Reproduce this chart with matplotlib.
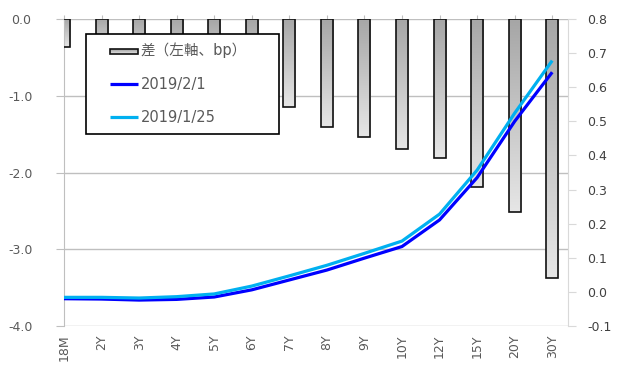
import matplotlib
matplotlib.use("Agg")
import matplotlib.pyplot as plt
import numpy as np
from matplotlib.patches import Rectangle
from matplotlib.lines import Line2D
from matplotlib.legend_handler import HandlerBase
from matplotlib.colors import LinearSegmentedColormap
from matplotlib.ticker import FormatStrFormatter

# Tenors and data
tenors = ['18M', '2Y', '3Y', '4Y', '5Y', '6Y', '7Y', '8Y', '9Y', '10Y', '12Y', '15Y', '20Y', '30Y']
spread_bp = [-0.37, -0.50, -0.60, -0.80, -0.90, -1.05, -1.15, -1.41, -1.54, -1.69, -1.81, -2.19, -2.51, -3.37]
yield_0201 = [-0.020, -0.021, -0.024, -0.022, -0.015, 0.006, 0.035, 0.064, 0.099, 0.133, 0.211, 0.335, 0.500, 0.644]
yield_0125 = [-0.016, -0.016, -0.018, -0.014, -0.006, 0.017, 0.047, 0.078, 0.113, 0.149, 0.228, 0.357, 0.524, 0.678]
left_ticks = [-4.0, -3.0, -2.0, -1.0, 0.0]
right_ticks = [-0.1, 0.0, 0.1, 0.2, 0.3, 0.4, 0.5, 0.6, 0.7, 0.8]
labels = ['差（左軸、bp）', '2019/2/1', '2019/1/25']

plt.rcParams['font.family'] = ['DejaVu Sans', 'Noto Sans CJK JP']

bar_cmap = LinearSegmentedColormap.from_list('bargrad', ['#a6a6a6', '#e6e6e6'])
c_dark = '#0000ff'
c_light = '#00b0f0'

fig = plt.figure(figsize=(6.22, 3.74), dpi=100)
ax = fig.add_axes([64 / 622, 1 - 326 / 374, 504 / 622, 307 / 374])
ax2 = ax.twinx()

x = np.arange(len(tenors))
w = 0.32
grad = np.linspace(0, 1, 128).reshape(-1, 1)
for xi, v in zip(x, spread_bp):
    ax.imshow(grad, extent=(xi - w / 2, xi + w / 2, v, 0), origin='upper',
              cmap=bar_cmap, aspect='auto', zorder=2, interpolation='bilinear')
ax.bar(x, spread_bp, width=w, facecolor='none', edgecolor='#111111',
       linewidth=1.2, zorder=3)

ax.set_xlim(0, 13.42)
ax.set_ylim(-4.0, 0.0)
ax.set_yticks(left_ticks)
ax.yaxis.set_major_formatter(FormatStrFormatter('%.1f'))
ax.yaxis.grid(True, color='#bfbfbf', linewidth=1.0, zorder=0)
ax.set_axisbelow(True)

ax.set_xticks(x)
ax.set_xticklabels(tenors, rotation=90, color='#595959', fontsize=9)
ax.tick_params(axis='x', bottom=False, top=True, labelbottom=True, labeltop=False,
               direction='inout', length=6, color='#bfbfbf', pad=3)
ax.tick_params(axis='y', direction='out', length=6, color='#bfbfbf',
               labelcolor='#595959', labelsize=9, pad=25)
for lab in ax.get_yticklabels():
    lab.set_horizontalalignment('center')

for s in ['top', 'bottom', 'right']:
    ax.spines[s].set_visible(False)
ax.spines['left'].set_color('#bfbfbf')

# Yield curves on the right axis
ax2.plot(x, yield_0201, color=c_dark, linewidth=2.3, zorder=4, solid_capstyle='butt')
ax2.plot(x, yield_0125, color=c_light, linewidth=2.3, zorder=5, solid_capstyle='butt')
ax2.set_ylim(-0.1, 0.8)
ax2.set_yticks(right_ticks)
ax2.yaxis.set_major_formatter(FormatStrFormatter('%.1f'))
ax2.tick_params(axis='y', direction='out', length=6, color='#d9d9d9',
                labelcolor='#404040', labelsize=9, pad=8)
for s in ['top', 'bottom', 'left']:
    ax2.spines[s].set_visible(False)
ax2.spines['right'].set_color('#d9d9d9')
ax2.set_xlim(0, 13.42)


class GradientSwatch:
    pass


class DarkKey:
    pass


class LightKey:
    pass


class OffsetHandler(HandlerBase):
    """Draws legend keys in the right part of the handle box."""
    def __init__(self, kind, color=None, frac=0.36):
        super().__init__()
        self.kind = kind
        self.color = color
        self.frac = frac

    def create_artists(self, legend, orig_handle, xdescent, ydescent,
                       width, height, fontsize, trans):
        x0 = -xdescent + width * self.frac
        x1 = -xdescent + width
        yc = -ydescent + height / 2
        if self.kind == 'bar':
            h = height * 0.55
            y0 = yc - h / 2 - 1
            n = 10
            arts = []
            for i in range(n):
                arts.append(Rectangle((x0, y0 + h * (n - 1 - i) / n), x1 - x0, h / n,
                                      facecolor=bar_cmap(i / (n - 1)), edgecolor='none',
                                      transform=trans))
            arts.append(Rectangle((x0, y0), x1 - x0, h, facecolor='none',
                                  edgecolor='#111111', linewidth=1.2, transform=trans))
            return arts
        ln = Line2D([x0, x1], [yc, yc], color=self.color, linewidth=2.3,
                    solid_capstyle='butt', transform=trans)
        return [ln]


handles = [GradientSwatch(), DarkKey(), LightKey()]
leg = ax2.legend(handles, labels,
                 handler_map={GradientSwatch: OffsetHandler('bar'),
                              DarkKey: OffsetHandler('line', c_dark),
                              LightKey: OffsetHandler('line', c_light)},
                 loc='upper left',
                 bbox_to_anchor=(86 / 622, 1 - 38 / 374, 193 / 622, 0.01),
                 bbox_transform=fig.transFigure, mode='expand',
                 fontsize=10.5, frameon=True, fancybox=False, shadow=False,
                 framealpha=1.0, facecolor='white',
                 borderaxespad=0, borderpad=0.58, labelspacing=1.27,
                 handlelength=3.0, handletextpad=0.15)
leg.get_frame().set_edgecolor('#000000')
leg.get_frame().set_linewidth(1.2)
for t in leg.get_texts():
    t.set_color('#595959')
leg.set_zorder(10)

fig.savefig('out.png', dpi=100)
